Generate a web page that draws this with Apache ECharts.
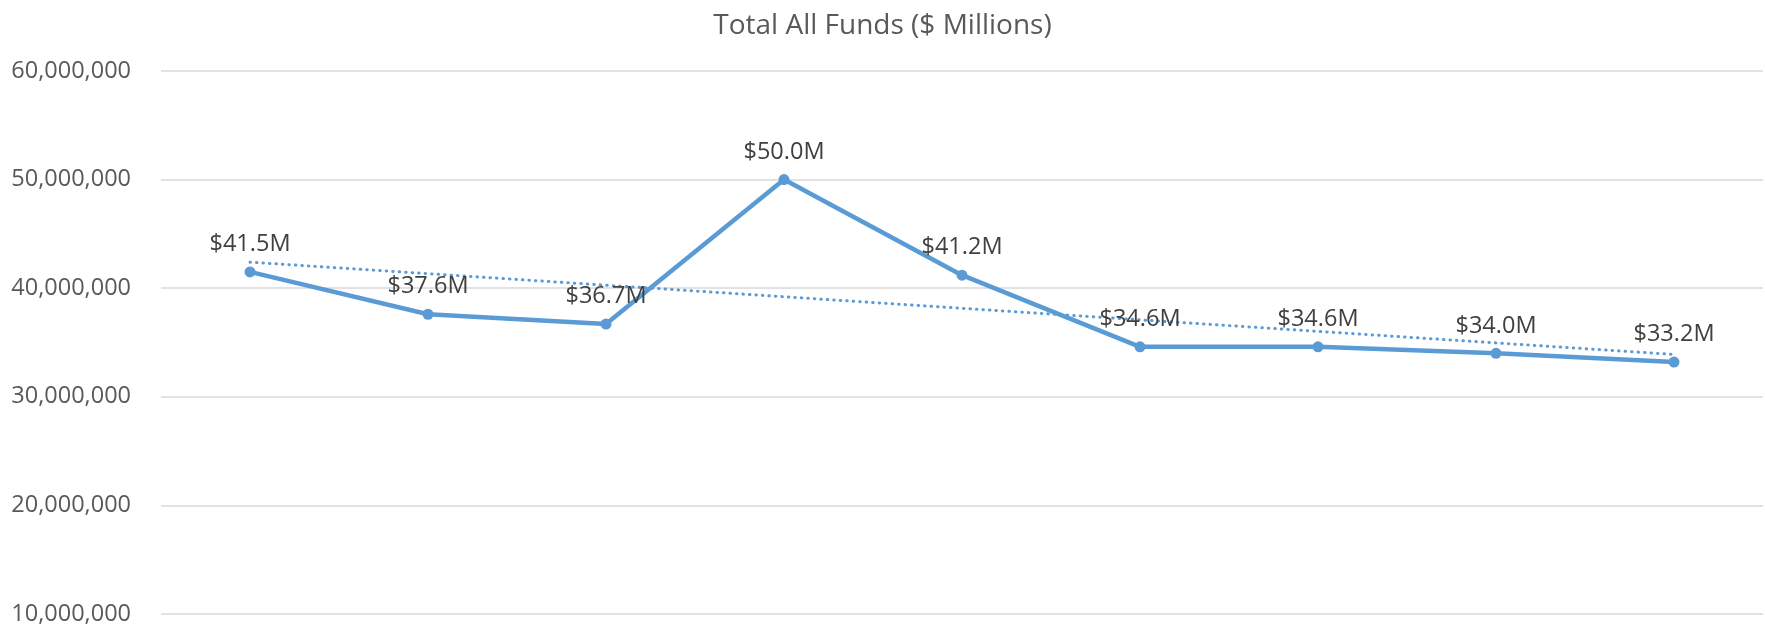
<!DOCTYPE html>
<html>
<head>
<meta charset="utf-8">
<title>Total All Funds</title>
<script src="https://cdn.jsdelivr.net/npm/echarts@6/dist/echarts.min.js"></script>
<style>
  html, body { margin: 0; padding: 0; background: #fff; }
  #chart { width: 1765px; height: 626px; }
</style>
</head>
<body>
<div id="chart"></div>
<script>
// x categories are not labelled in the original picture
const categories = ['1', '2', '3', '4', '5', '6', '7', '8', '9'];
const totalFunds = [41.5e6, 37.6e6, 36.7e6, 50.0e6, 41.2e6, 34.6e6, 34.6e6, 34.0e6, 33.2e6];
// linear trendline ends
const trendEnds = [42.4e6, 33.9e6];
const yTicks = { min: 10e6, max: 60e6, step: 10e6 };

const trendData = categories.map((c, i) =>
    i === 0 ? trendEnds[0] : (i === categories.length - 1 ? trendEnds[1] : null));

const chart = echarts.init(document.getElementById('chart'));
const textColor = '#595959';
const blue = '#5B9BD5';

chart.setOption({
    animation: false,
    textStyle: { fontFamily: '"Open Sans", sans-serif' },
    title: {
        text: 'Total All Funds ($ Millions)',
        left: 'center',
        top: 7,
        textStyle: {
            fontFamily: '"Open Sans", sans-serif',
            fontSize: 28,
            fontWeight: 'normal',
            color: textColor
        }
    },
    grid: {
        left: 161,
        right: 2,
        top: 71,
        bottom: 12
    },
    xAxis: {
        type: 'category',
        data: categories,
        boundaryGap: true,
        axisLine: { show: false },
        axisTick: { show: false },
        axisLabel: { show: false }
    },
    yAxis: {
        type: 'value',
        min: yTicks.min,
        max: yTicks.max,
        interval: yTicks.step,
        axisLine: { show: false },
        axisTick: { show: false },
        axisLabel: {
            color: textColor,
            fontSize: 23.5,
            margin: 30,
            formatter: v => v.toLocaleString('en-US')
        },
        splitLine: { lineStyle: { color: '#d9d9d9', width: 1.5 } }
    },
    series: [
        {
            name: 'Total All Funds',
            type: 'line',
            data: totalFunds,
            symbol: 'circle',
            symbolSize: 11,
            itemStyle: { color: blue },
            lineStyle: { color: blue, width: 4.5 },
            label: {
                show: true,
                position: 'top',
                distance: 10,
                fontSize: 23.5,
                color: '#404040',
                formatter: p => '$' + (p.value / 1e6).toFixed(1) + 'M'
            },
            z: 3
        },
        {
            name: 'Trend',
            type: 'line',
            data: trendData,
            connectNulls: true,
            showSymbol: false,
            symbol: 'none',
            lineStyle: { color: blue, width: 3, type: [0.5, 6], cap: 'round' },
            z: 2
        }
    ]
});
</script>
</body>
</html>
